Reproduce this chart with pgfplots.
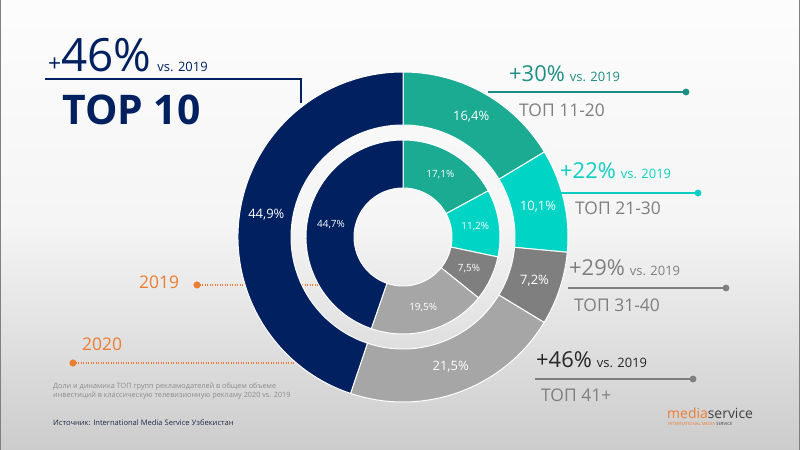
\documentclass[border=0pt]{standalone}
\usepackage{fontspec}
\setmainfont{Open Sans}
\usepackage{pgfplots}
\usepackage{pgfplotstable}
\pgfplotsset{compat=1.18}

\definecolor{cnavy}{HTML}{002060}
\definecolor{cteal}{HTML}{1BAA92}
\definecolor{ccyan}{HTML}{00D4C4}
\definecolor{cdgray}{HTML}{7F7F7F}
\definecolor{clgray}{HTML}{A6A6A6}
\definecolor{corange}{HTML}{ED7D31}
\definecolor{ctealtxt}{HTML}{1E8E85}
\definecolor{ccyantxt}{HTML}{0CCFC2}
\definecolor{cgraytxt}{HTML}{7F7F7F}
\definecolor{cblacktxt}{HTML}{262626}
\definecolor{cnote}{HTML}{8C8C8C}
\definecolor{csrc}{HTML}{1F2A48}
\colorlet{seg0}{cteal}
\colorlet{seg1}{ccyan}
\colorlet{seg2}{cdgray}
\colorlet{seg3}{clgray}
\colorlet{seg4}{cnavy}

\newcommand\fs[1]{\fontsize{#1}{#1}\selectfont}

% clockwise from top: TOP 11-20, TOP 21-30, TOP 31-40, TOP 41+, TOP 10
\pgfplotstableread{
group share
11-20 16.4
21-30 10.1
31-40 7.2
41+ 21.5
10 44.9
}\outerdata
\pgfplotstableread{
group share
11-20 17.1
21-30 11.2
31-40 7.5
41+ 19.5
10 44.7
}\innerdata

\newcommand\ringangles[3]{% #1 table, #2 prefix, #3 label radius
  \gdef\ringtot{0}%
  \foreach \i in {0,...,4}{%
    \pgfplotstablegetelem{\i}{share}\of#1%
    \pgfmathsetmacro\tmpsum{\ringtot+\pgfplotsretval}%
    \xdef\ringtot{\tmpsum}}%
  \gdef\ringacc{90}%
  \foreach \i in {0,...,4}{%
    \pgfplotstablegetelem{\i}{share}\of#1%
    \let\segval\pgfplotsretval
    \pgfmathsetmacro\endang{\ringacc-\segval*360/\ringtot}%
    \pgfmathsetmacro\midang{(\ringacc+\endang)/2}%
    \pgfmathsetmacro\labx{403+#3*cos(\midang)}%
    \pgfmathsetmacro\laby{213+#3*sin(\midang)}%
    \expandafter\xdef\csname #2s\i\endcsname{\ringacc}%
    \expandafter\xdef\csname #2e\i\endcsname{\endang}%
    \expandafter\xdef\csname #2v\i\endcsname{\segval}%
    \expandafter\xdef\csname #2lx\i\endcsname{\labx}%
    \expandafter\xdef\csname #2ly\i\endcsname{\laby}%
    \xdef\ringacc{\endang}}%
}

\begin{document}
\begin{tikzpicture}
\ringangles{\outerdata}{o}{138.5}
\ringangles{\innerdata}{i}{73}
\begin{axis}[x=1bp,y=1bp,xmin=0,xmax=800,ymin=0,ymax=450,
  hide axis,clip=false,enlargelimits=false]
% background
\shade[top color=white!99!black,bottom color=white!96!black,draw=none] (axis cs:0,225) rectangle (axis cs:800,450);
\shade[top color=white!96!black,bottom color=white!80!black,draw=none] (axis cs:0,0) rectangle (axis cs:800,225.5);
\fill[gray] (axis cs:0,0) rectangle (axis cs:1.2,450);
\fill[gray] (axis cs:798.8,0) rectangle (axis cs:800,450);

% orange dotted year markers (under donut)
\addplot[corange,line width=1.6bp,dash pattern=on 1.2bp off 1.3bp] coordinates {(197,165) (320,165)};
\addplot[corange,line width=1.6bp,dash pattern=on 1.2bp off 1.3bp] coordinates {(73,87) (300,87)};
\addplot[only marks,mark=*,mark size=3.3pt,corange,mark options={draw=corange,fill=corange}] coordinates {(197,165) (73,87)};

% outer ring (2020)
\pgfplotsinvokeforeach{0,...,4}{%
  \edef\temp{\noexpand\fill[seg#1,draw=white,line width=1bp] (axis cs:403,213) ++(\csname os#1\endcsname:165bp) arc[start angle=\csname os#1\endcsname,end angle=\csname oe#1\endcsname,radius=165bp] -- ++(\csname oe#1\endcsname:-53bp) arc[start angle=\csname oe#1\endcsname,end angle=\csname os#1\endcsname,radius=112bp] -- cycle;}%
  \temp
}
% inner ring (2019)
\pgfplotsinvokeforeach{0,...,4}{%
  \edef\temp{\noexpand\fill[seg#1,draw=white,line width=1bp] (axis cs:403,213) ++(\csname is#1\endcsname:97bp) arc[start angle=\csname is#1\endcsname,end angle=\csname ie#1\endcsname,radius=97bp] -- ++(\csname ie#1\endcsname:-48bp) arc[start angle=\csname ie#1\endcsname,end angle=\csname is#1\endcsname,radius=49bp] -- cycle;}%
  \temp
}
% labels
\pgfplotsinvokeforeach{0,...,4}{%
  \edef\temp{\noexpand\node[text=white,inner sep=0pt,font=\noexpand\fs{13}] at (axis cs:\csname olx#1\endcsname,\csname oly#1\endcsname) {\noexpand\pgfmathprintnumber[fixed,fixed zerofill,precision=1,use comma,assume math mode=true]{\csname ov#1\endcsname}\noexpand\%};}%
  \temp
  \edef\temp{\noexpand\node[text=white,inner sep=0pt,font=\noexpand\fs{10}] at (axis cs:\csname ilx#1\endcsname,\csname ily#1\endcsname) {\noexpand\pgfmathprintnumber[fixed,fixed zerofill,precision=1,use comma,assume math mode=true]{\csname iv#1\endcsname}\noexpand\%};}%
  \temp
}

% TOP 10 callout
\addplot[cnavy,line width=1.6bp] coordinates {(45,371) (301,371) (301,347)};
\node[anchor=base west,inner sep=0pt,text=cnavy] at (axis cs:48,378) {{\fs{23}+}{\fs{46}46\%}\hspace{6bp}{\fs{13}vs. 2019}};
\node[anchor=base west,inner sep=0pt,text=cnavy] at (axis cs:62,325) {\fs{41}\bfseries TOP 10};

% right callouts
\addplot[ctealtxt,line width=1.6bp] coordinates {(488,358) (686,358)};
\addplot[only marks,mark=*,mark size=3.2pt,ctealtxt] coordinates {(686,358)};
\node[anchor=base west,inner sep=0pt,text=ctealtxt] at (axis cs:509,368) {{\fs{22}+30\%}\hspace{5bp}{\fs{13}vs. 2019}};
\node[anchor=base west,inner sep=0pt,text=cgraytxt] at (axis cs:519,333) {\fs{17.5}ТОП 11-20};

\addplot[ccyantxt,line width=1.6bp] coordinates {(561,257) (698,257)};
\addplot[only marks,mark=*,mark size=3.2pt,ccyantxt] coordinates {(698,257)};
\node[anchor=base west,inner sep=0pt,text=ccyantxt] at (axis cs:560,271) {{\fs{22}+22\%}\hspace{5bp}{\fs{13}vs. 2019}};
\node[anchor=base west,inner sep=0pt,text=cgraytxt] at (axis cs:575,235) {\fs{17.5}ТОП 21-30};

\addplot[cgraytxt,line width=1.6bp] coordinates {(568,162) (726,162)};
\addplot[only marks,mark=*,mark size=3.2pt,cgraytxt] coordinates {(726,162)};
\node[anchor=base west,inner sep=0pt,text=cgraytxt] at (axis cs:569,174) {{\fs{22}+29\%}\hspace{5bp}{\fs{13}vs. 2019}};
\node[anchor=base west,inner sep=0pt,text=cgraytxt] at (axis cs:574,138) {\fs{17.5}ТОП 31-40};

\addplot[cgraytxt,line width=1.6bp] coordinates {(535,71) (693,71)};
\addplot[only marks,mark=*,mark size=3.2pt,cgraytxt] coordinates {(693,71)};
\node[anchor=base west,inner sep=0pt,text=cblacktxt] at (axis cs:536,82) {{\fs{22}+46\%}\hspace{5bp}{\fs{13}vs. 2019}};
\node[anchor=base west,inner sep=0pt,text=cgraytxt] at (axis cs:541,48) {\fs{17.5}ТОП 41+};

% years
\node[anchor=base west,inner sep=0pt,text=corange] at (axis cs:139,161) {\fs{17.5}2019};
\node[anchor=base west,inner sep=0pt,text=corange] at (axis cs:82,99) {\fs{17.5}2020};

% notes
\node[anchor=base west,inner sep=0pt,text=cnote] at (axis cs:53,61) {\fs{7.3}Доли и динамика ТОП групп рекламодателей в общем объеме};
\node[anchor=base west,inner sep=0pt,text=cnote] at (axis cs:53,52.5) {\fs{7.3}инвестиций в классическую телевизионную рекламу 2020 vs. 2019};
\node[anchor=base west,inner sep=0pt,text=csrc] at (axis cs:53,24) {\fs{7.6}Источник: International Media Service Узбекистан};

% logo
\node[anchor=base west,inner sep=0pt] at (axis cs:667,31) {\fs{14}\textcolor{corange}{media}\textcolor{black!75}{service}};
\node[anchor=base west,inner sep=0pt] at (axis cs:668,24) {\fs{4.3}\textcolor{corange}{INTERNATIONAL MEDIA} \textcolor{black!75}{SERVICE}};
\end{axis}
\end{tikzpicture}
\end{document}
